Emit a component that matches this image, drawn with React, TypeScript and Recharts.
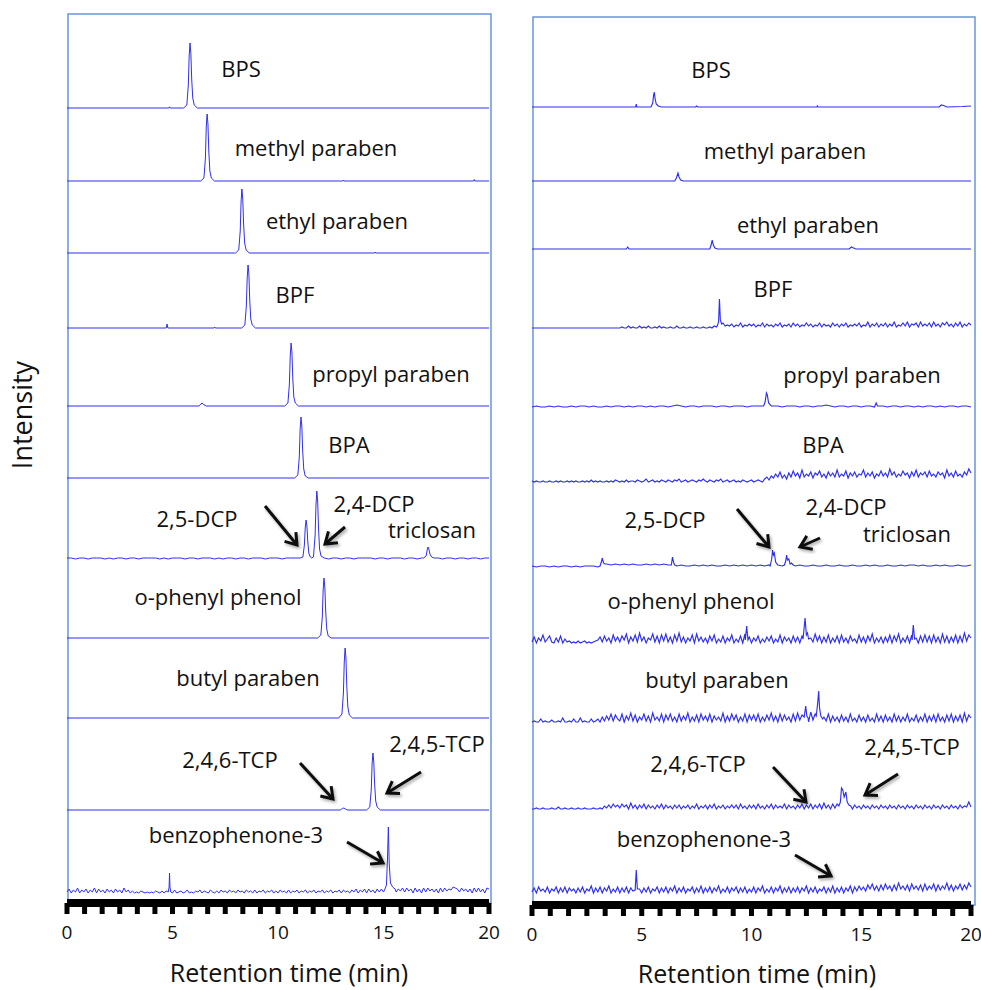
import { LineChart, Line, XAxis, YAxis } from 'recharts';

type Pt = [number, number];

const TICKS = Array.from({ length: 25 }, (_, i) => (i * 20) / 24);
const TICK_LABELS = [0, 5, 10, 15, 20];

// ---- left panel (standards) ----
const L_BPS: Pt[][] = [
  [[4.83, 0], [4.86, 1.2], [4.89, 0]],
  [[5.53, 0], [5.68, 3], [5.75, 23], [5.79, 52], [5.83, 65], [5.87, 55], [5.91, 29], [5.96, 10], [6.03, 3], [6.18, 0]],
];
const L_MP: Pt[][] = [
  [[6.34, 0], [6.49, 3], [6.56, 23], [6.6, 54], [6.64, 67], [6.68, 57], [6.72, 30], [6.77, 10], [6.84, 3], [6.99, 0]],
  [[13.07, 0], [13.1, 1], [13.13, 0]],
  [[19.27, 0], [19.3, 1.5], [19.33, 0]],
];
const L_EP: Pt[][] = [
  [[7.99, 0], [8.14, 3], [8.21, 22], [8.25, 51], [8.29, 64], [8.33, 54], [8.37, 29], [8.42, 10], [8.49, 3], [8.64, 0]],
  [[14.57, 0], [14.6, 1], [14.63, 0]],
];
const L_BPF: Pt[][] = [
  [[4.7, 0], [4.74, 4], [4.78, 0]],
  [[6.97, 0], [7.0, 1], [7.03, 0]],
  [[8.28, 0], [8.43, 3], [8.5, 22], [8.54, 50], [8.58, 63], [8.62, 54], [8.66, 28], [8.71, 9], [8.78, 3], [8.93, 0]],
];
const L_PP: Pt[][] = [
  [[6.25, 0], [6.35, 2], [6.4, 3], [6.47, 1.5], [6.6, 0]],
  [[10.32, 0], [10.47, 3], [10.54, 22], [10.58, 50], [10.62, 63], [10.66, 54], [10.7, 28], [10.75, 9], [10.82, 3], [10.97, 0]],
];
const L_BPA: Pt[][] = [
  [[10.79, 0], [10.94, 3], [11.01, 21], [11.05, 49], [11.09, 61], [11.13, 52], [11.17, 27], [11.22, 9], [11.29, 2], [11.44, 0]],
];
const L_DCP_NOISE = [
  1, 1, 0, 1, 1, 0, 1, 1, 1, 0,
  1, 0, 1, 1, 0, 1, 1, 0, 1, 1,
  1, 1, 0, 1, 0, 1, 1, 1, 0, 1,
  1, 0, 1, 1, 1, 0, 1, 0, 1, 1,
  0, 1, 1, 0, 1, 1, 1, 0, 1, 1,
  1, 0, 1, 1, 1, 1, 1, 1, 1, 1,
  1, 1, 0, 1, 1, 0, 1, 1, 0, 1,
  1, 1, 1, 0, 1, 1, 0, 1, 1, 1,
  0, 1, 1, 0, 1, 1, 1, 1, 1, 0,
  1, 1, 0, 1, 1, 0, 1, 1, 0, 1,
  1,
];
const L_DCP: Pt[][] = [
  [[11.05, 1], [11.18, 2], [11.25, 14], [11.29, 31], [11.33, 39], [11.37, 33], [11.41, 18], [11.46, 6], [11.53, 2], [11.6, 1]],
  [[11.68, 2], [11.76, 24], [11.8, 54], [11.84, 68], [11.88, 58], [11.92, 31], [11.97, 10], [12.04, 3], [12.19, 1]],
  [[16.9, 1], [17.02, 3], [17.07, 9], [17.11, 12], [17.15, 10], [17.2, 5], [17.28, 2], [17.4, 1]],
];
const L_OPH: Pt[][] = [
  [[11.88, 0], [12.03, 3], [12.1, 21], [12.14, 48], [12.18, 60], [12.22, 51], [12.26, 27], [12.31, 9], [12.38, 2], [12.53, 0]],
];
const L_BUT: Pt[][] = [
  [[12.88, 0], [13.03, 4], [13.1, 25], [13.14, 56], [13.18, 70], [13.22, 60], [13.26, 32], [13.31, 11], [13.38, 3], [13.53, 0]],
];
const L_TCP: Pt[][] = [
  [[12.95, 0], [13.05, 1.5], [13.12, 2], [13.2, 1], [13.3, 0]],
  [[14.2, 0], [14.35, 3], [14.42, 20], [14.46, 46], [14.5, 57], [14.54, 48], [14.58, 26], [14.63, 9], [14.7, 3], [14.85, 0]],
];
const L_BZ_NOISE = [
  1, 4, 0, 3, 1, 5, 0, 3, 1, 4, 0, 3, 1, 5, 0, 4, 1, 3, 0, 4,
  1, 3, 0, 4, 1, 3, 0, 5, 1, 3, 0, 2, 0, 1, 0, 2, 1, 0, 1, 0,
  1, 0, 2, 1, 0, 2, 0, 2, 0, 1, 0, 3, 0, 1, 2, 0, 1, 3, 0, 1,
  0, 2, 1, 3, 0, 2, 1, 0, 3, 1, 0, 2, 0, 3, 1, 2, 0, 3, 1, 2,
  0, 3, 1, 2, 0, 3, 1, 2, 0, 3, 0, 2, 1, 3, 0, 2, 1, 3, 0, 2,
  0, 3, 1, 2, 0, 3, 0, 2, 1, 3, 0, 2, 1, 3, 0, 2, 1, 3, 0, 2,
  1, 3, 0, 2, 1, 3, 0, 2, 1, 3, 0, 3, 1, 2, 0, 3, 1, 4, 0, 3,
  1, 4, 0, 4, 1, 3, 0, 4, 1, 4, 1, 3, 0, 4, 1, 4, 1, 4, 2, 5,
  1, 5, 2, 4, 0, 5, 1, 4, 0, 5, 1, 5, 2, 4, 1, 4, 0, 5, 1, 5,
  2, 4, 3, 6, 5, 4, 1, 5, 2, 4, 1, 4, 0, 5, 1, 5, 1, 4, 0, 5,
  4,
];
const L_BZ: Pt[][] = [
  [[4.8, 1], [4.84, 6], [4.86, 20], [4.88, 6], [4.92, 1]],
  [[15.05, 3], [15.14, 8], [15.19, 35], [15.23, 66], [15.27, 30], [15.33, 10], [15.43, 6], [15.55, 4]],
];

// ---- right panel (sample) ----
const R_BPS: Pt[][] = [
  [[4.72, 0], [4.75, 3], [4.78, 0]],
  [[5.42, 0], [5.5, 4], [5.54, 12], [5.57, 15], [5.61, 8], [5.66, 3], [5.75, 1], [5.9, 0]],
  [[7.45, 0], [7.5, 1], [7.55, 0]],
  [[12.98, 0], [13.0, 1], [13.03, 0]],
  [[18.55, 0], [18.65, 2], [18.75, 1.5], [18.9, 0], [19.6, 0.5], [20, 1]],
];
const R_MP: Pt[][] = [
  [[6.5, 0], [6.58, 3], [6.65, 8], [6.7, 4], [6.77, 1], [6.9, 0]],
];
const R_EP: Pt[][] = [
  [[4.3, 0], [4.36, 2], [4.42, 0]],
  [[8.1, 0], [8.16, 4], [8.21, 9], [8.26, 4], [8.33, 1], [8.45, 0]],
  [[14.45, 0], [14.55, 2], [14.65, 1], [14.75, 0]],
];
const R_BPF_NOISE = [
  0, 0, 0, 0, 0, 0, 0, 0, 0, 0, 0, 0, 0, 0, 0, 0, 0, 0, 0, 0,
  0, 0, 0, 0, 0, 0, 0, 0, 0, 0, 0, 0, 0, 0, 0, 0, 0, 0, 0, 0,
  0, 1, 0, 0, 2, 0, 1, 0, 0, 2, 0, 1, 0, 2, 0, 0, 1, 0, 2, 0,
  1, 0, 0, 1, 0, 0, 2, 0, 0, 1, 0, 0, 1, 0, 0, 1, 0, 0, 1, 0,
  0, 1, 0, 2, 1, 3, 2, 1, 2, 3, 2, 4, 1, 3, 2, 5, 1, 3, 2, 4,
  2, 4, 1, 3, 2, 5, 1, 4, 2, 3, 1, 4, 2, 5, 1, 3, 2, 4, 1, 5,
  2, 4, 1, 3, 2, 5, 2, 4, 1, 3, 2, 5, 1, 4, 2, 3, 1, 5, 2, 4,
  1, 4, 2, 5, 1, 3, 2, 4, 2, 5, 1, 3, 2, 6, 1, 4, 2, 5, 1, 4,
  2, 5, 1, 4, 2, 6, 1, 3, 2, 5, 2, 6, 1, 4, 3, 5, 1, 6, 2, 4,
  2, 5, 1, 6, 2, 4, 1, 5, 3, 6, 2, 4, 1, 5, 2, 6, 1, 4, 2, 5,
  3,
];
const R_BPF: Pt[][] = [
  [[8.44, 2], [8.5, 6], [8.54, 29], [8.58, 8], [8.64, 4], [8.7, 5]],
];
const R_PP_NOISE = [
  0, 1, 0, 0, 1, 0, 1, 0, 0, 1,
  0, 1, 1, 0, 1, 0, 0, 1, 0, 1,
  1, 0, 1, 0, 1, 1, 0, 1, 0, 1,
  1, 0, 1, 2, 1, 0, 1, 1, 0, 1,
  1, 1, 0, 1, 1, 0, 1, 1, 1, 0,
  1, 1, 1, 0, 1, 1, 1, 0, 1, 1,
  1, 0, 1, 1, 0, 1, 1, 2, 1, 0,
  1, 1, 0, 1, 1, 0, 1, 1, 0, 1,
  1, 0, 1, 1, 0, 1, 1, 0, 1, 0,
  1, 1, 0, 1, 0, 1, 1, 0, 1, 1,
  0,
];
const R_PP: Pt[][] = [
  [[10.55, 1], [10.62, 5], [10.68, 14], [10.72, 12], [10.78, 4], [10.9, 1]],
  [[15.62, 1], [15.68, 4], [15.74, 1]],
];
const R_BPA_NOISE = [
  1, 0, 1, 0, 0, 1, 0, 0, 1, 0, 0, 1, 0, 1, 0, 0, 1, 0, 1, 0,
  1, 0, 0, 1, 0, 1, 0, 2, 0, 1, 0, 1, 0, 0, 1, 0, 1, 0, 2, 1,
  0, 1, 0, 2, 0, 1, 1, 0, 2, 1, 0, 1, 3, 0, 1, 2, 0, 1, 0, 2,
  1, 0, 2, 1, 0, 2, 1, 3, 0, 1, 2, 0, 1, 2, 1, 0, 2, 1, 3, 1,
  0, 2, 1, 0, 2, 1, 3, 0, 1, 2, 0, 1, 2, 0, 1, 0, 2, 1, 0, 1,
  2, 0, 1, 2, 1, 0, 3, 5, 2, 6, 4, 8, 5, 10, 4, 7, 3, 9, 5, 11,
  6, 9, 4, 12, 5, 8, 6, 10, 4, 9, 7, 11, 5, 8, 4, 10, 6, 9, 5, 12,
  5, 8, 6, 11, 4, 9, 6, 10, 5, 8, 7, 12, 5, 9, 6, 10, 4, 8, 6, 11,
  6, 9, 5, 13, 7, 10, 5, 8, 6, 11, 7, 9, 4, 10, 6, 12, 5, 9, 7, 10,
  5, 11, 6, 8, 5, 10, 7, 9, 4, 12, 6, 9, 5, 11, 6, 8, 5, 10, 7, 13,
  9,
];
const R_BPA: Pt[][] = [];
const R_DCP_NOISE = [
  1, 0, 1, 1, 0, 1, 0, 1, 1, 0,
  1, 0, 1, 1, 1, 0, 4, 3, 2, 3,
  2, 3, 2, 3, 2, 2, 3, 2, 3, 2,
  3, 2, 4, 1, 2, 1, 1, 2, 1, 2,
  1, 2, 1, 1, 2, 1, 2, 1, 2, 1,
  2, 1, 2, 1, 2, 1, 2, 1, 2, 2,
  1, 2, 1, 1, 2, 1, 1, 2, 1, 1,
  2, 1, 1, 2, 1, 1, 2, 1, 2, 1,
  1, 2, 1, 1, 2, 1, 2, 2, 1, 2,
  1, 1, 2, 1, 2, 1, 1, 2, 1, 1,
  2,
];
const R_DCP: Pt[][] = [
  [[3.1, 1], [3.16, 5], [3.2, 9], [3.26, 4], [3.32, 3]],
  [[6.35, 2], [6.4, 10], [6.46, 4], [6.5, 2]],
  [[10.85, 1], [10.92, 8], [10.96, 17], [11.0, 12], [11.04, 14], [11.1, 5], [11.16, 3]],
  [[11.5, 2], [11.56, 6], [11.6, 12], [11.64, 7], [11.7, 8], [11.76, 3], [11.82, 4], [11.9, 2]],
];
const R_OPH_NOISE = [
  1, 6, 0, 5, 2, 8, 1, 4, 7, 1, 0, 5, 1, 7, 0, 4, 1, 2, 0, 1,
  0, 2, 0, 1, 2, 0, 1, 0, 1, 2, 3, 6, 1, 7, 2, 5, 0, 8, 2, 6,
  1, 7, 3, 9, 0, 6, 2, 8, 1, 10, 2, 6, 0, 5, 3, 9, 1, 7, 0, 8,
  2, 9, 1, 6, 0, 8, 2, 10, 1, 6, 0, 5, 2, 8, 0, 9, 2, 6, 1, 5,
  0, 7, 2, 8, 0, 4, 1, 7, 0, 5, 2, 8, 0, 4, 1, 7, 0, 9, 1, 6,
  0, 5, 2, 7, 0, 4, 1, 6, 2, 7, 0, 4, 1, 8, 0, 6, 2, 5, 0, 7,
  1, 6, 0, 7, 2, 8, 0, 5, 1, 9, 2, 7, 0, 6, 1, 8, 0, 5, 1, 7,
  0, 8, 1, 5, 0, 7, 2, 4, 0, 8, 1, 6, 0, 7, 2, 9, 0, 5, 1, 6,
  0, 6, 1, 8, 0, 7, 2, 9, 0, 5, 1, 7, 0, 8, 2, 5, 0, 7, 1, 8,
  1, 7, 0, 8, 1, 6, 0, 9, 1, 7, 0, 6, 1, 8, 0, 7, 1, 10, 2, 8,
  5,
];
const R_OPH: Pt[][] = [
  [[9.72, 3], [9.78, 17], [9.84, 3]],
  [[12.35, 4], [12.44, 25], [12.5, 8], [12.55, 10], [12.6, 4]],
  [[17.32, 3], [17.37, 18], [17.43, 4]],
];
const R_BUT_NOISE = [
  0, 1, 0, 0, 3, 0, 1, 0, 0, 2, 0, 0, 1, 0, 4, 0, 0, 1, 0, 3,
  0, 0, 4, 0, 1, 0, 0, 3, 0, 1, 3, 0, 5, 1, 6, 2, 8, 1, 7, 3,
  1, 8, 0, 6, 2, 9, 1, 7, 0, 5, 2, 8, 1, 6, 0, 9, 2, 5, 1, 8,
  0, 7, 2, 8, 1, 5, 0, 8, 1, 6, 2, 9, 0, 5, 1, 7, 0, 8, 2, 6,
  1, 8, 0, 6, 2, 5, 1, 9, 0, 6, 1, 8, 2, 7, 0, 5, 1, 8, 0, 7,
  2, 7, 1, 8, 0, 5, 1, 7, 2, 9, 1, 6, 0, 8, 1, 7, 2, 5, 0, 8,
  1, 9, 2, 7, 1, 8, 0, 10, 2, 8, 1, 7, 0, 5, 1, 8, 0, 6, 1, 5,
  0, 7, 1, 5, 0, 8, 1, 4, 0, 7, 1, 5, 0, 7, 1, 4, 0, 8, 1, 6,
  0, 7, 1, 5, 0, 8, 1, 6, 0, 5, 1, 8, 0, 4, 1, 7, 0, 5, 1, 8,
  0, 6, 1, 7, 0, 8, 1, 5, 0, 7, 1, 8, 0, 6, 1, 7, 0, 9, 1, 7,
  4,
];
const R_BUT: Pt[][] = [
  [[12.4, 5], [12.47, 16], [12.52, 6], [12.58, 4]],
  [[12.95, 6], [13.02, 20], [13.06, 31], [13.1, 14], [13.16, 6], [13.24, 3]],
];
const R_TCP_NOISE = [
  0, 0, 1, 0, 0, 1, 0, 0, 0, 1, 0, 0, 2, 0, 0, 1, 0, 0, 1, 0,
  0, 1, 0, 0, 1, 0, 0, 0, 1, 0, 0, 1, 0, 3, 1, 4, 1, 5, 2, 4,
  1, 5, 2, 4, 0, 6, 1, 4, 0, 4, 1, 5, 0, 4, 1, 3, 0, 4, 1, 5,
  0, 4, 1, 3, 0, 4, 1, 4, 0, 3, 1, 4, 0, 3, 1, 5, 0, 3, 1, 4,
  0, 4, 1, 5, 0, 3, 1, 4, 0, 3, 1, 4, 1, 4, 0, 5, 1, 3, 0, 4,
  1, 4, 0, 5, 1, 3, 0, 4, 1, 5, 0, 4, 1, 3, 1, 5, 0, 4, 1, 3,
  0, 4, 1, 5, 0, 4, 1, 5, 0, 4, 1, 5, 0, 6, 1, 4, 0, 5, 1, 5,
  1, 4, 0, 5, 1, 3, 0, 4, 1, 3, 0, 4, 1, 3, 0, 4, 1, 3, 0, 4,
  1, 3, 0, 4, 1, 3, 0, 4, 1, 3, 0, 4, 1, 3, 0, 4, 1, 3, 0, 4,
  1, 3, 0, 4, 1, 3, 0, 4, 1, 3, 0, 4, 1, 3, 0, 4, 1, 3, 2, 7,
  2,
];
const R_TCP: Pt[][] = [
  [[13.98, 3], [14.05, 7], [14.1, 21], [14.16, 19], [14.22, 12], [14.3, 17], [14.36, 7], [14.44, 4], [14.52, 3]],
];
const R_BZ_NOISE = [
  1, 5, 0, 6, 2, 4, 1, 6, 0, 4, 2, 6, 0, 5, 1, 6, 0, 5, 2, 4,
  0, 5, 1, 6, 0, 4, 2, 7, 0, 5, 1, 6, 0, 5, 2, 7, 0, 4, 1, 6,
  0, 5, 1, 6, 0, 5, 2, 6, 1, 4, 0, 5, 1, 6, 0, 4, 2, 6, 0, 5,
  1, 6, 0, 5, 2, 7, 0, 5, 1, 6, 0, 4, 2, 6, 0, 5, 1, 7, 0, 5,
  1, 6, 0, 5, 2, 7, 0, 4, 1, 6, 0, 5, 2, 6, 0, 5, 1, 6, 0, 4,
  1, 6, 0, 5, 2, 7, 0, 4, 1, 6, 0, 5, 2, 7, 0, 5, 1, 6, 0, 5,
  1, 6, 0, 5, 2, 7, 0, 5, 1, 6, 0, 4, 2, 6, 0, 5, 1, 7, 0, 5,
  1, 6, 0, 5, 2, 7, 0, 6, 2, 7, 3, 6, 2, 8, 4, 9, 3, 7, 2, 8,
  3, 9, 4, 7, 2, 8, 3, 10, 4, 7, 3, 8, 2, 9, 4, 7, 3, 8, 2, 9,
  3, 7, 4, 9, 2, 8, 3, 7, 4, 10, 3, 8, 2, 7, 4, 9, 3, 8, 4, 10,
  6,
];
const R_BZ: Pt[][] = [
  [[4.7, 3], [4.75, 23], [4.8, 4]],
];

const LEFT_TRACES: [number[] | null, Pt[][]][] = [
  [null, L_BPS], [null, L_MP], [null, L_EP], [null, L_BPF], [null, L_PP], [null, L_BPA],
  [L_DCP_NOISE, L_DCP], [null, L_OPH], [null, L_BUT], [null, L_TCP], [L_BZ_NOISE, L_BZ],
];
const RIGHT_TRACES: [number[] | null, Pt[][]][] = [
  [null, R_BPS], [null, R_MP], [null, R_EP], [R_BPF_NOISE, R_BPF], [R_PP_NOISE, R_PP], [R_BPA_NOISE, R_BPA],
  [R_DCP_NOISE, R_DCP], [R_OPH_NOISE, R_OPH], [R_BUT_NOISE, R_BUT], [R_TCP_NOISE, R_TCP], [R_BZ_NOISE, R_BZ],
];

// ---- layout ----
const PANELS = [
  { x0: 67, w: 422, floor: -10, lw: 1, traces: LEFT_TRACES, baselines: [108, 181, 253, 328, 406, 478, 559, 638, 718, 810, 893] },
  { x0: 532, w: 439, floor: -12, lw: 1.15, traces: RIGHT_TRACES, baselines: [107, 181, 249, 328, 407, 482, 567, 643, 722, 809, 893] },
];

const LABELS: [string, number, number][] = [
  ['BPS', 241, 77], ['methyl paraben', 316, 156], ['ethyl paraben', 337, 229], ['BPF', 295, 303],
  ['propyl paraben', 391, 382], ['BPA', 349, 453], ['2,5-DCP', 197, 527], ['2,4-DCP', 374, 512],
  ['triclosan', 432, 538], ['o-phenyl phenol', 218, 605], ['butyl paraben', 248, 686],
  ['2,4,6-TCP', 230, 768], ['2,4,5-TCP', 437, 752], ['benzophenone-3', 236, 843],
  ['BPS', 711, 78], ['methyl paraben', 785, 159], ['ethyl paraben', 808, 233], ['BPF', 773, 297],
  ['propyl paraben', 862, 383], ['BPA', 823, 453], ['2,5-DCP', 665, 528], ['2,4-DCP', 846, 515],
  ['triclosan', 907, 542], ['o-phenyl phenol', 691, 609], ['butyl paraben', 717, 688],
  ['2,4,6-TCP', 698, 772], ['2,4,5-TCP', 912, 755], ['benzophenone-3', 704, 847],
];

const ARROWS: [number, number, number, number][] = [
  [265, 506, 297, 545], [345, 527, 325, 544], [300, 763, 333, 799], [421, 772, 387, 793], [347, 842, 383, 863],
  [737, 509, 769, 547], [820, 538, 800, 547], [773, 767, 806, 802], [898, 774, 865, 795], [795, 855, 831, 876],
];

const STRIP_H = 90;
const TRACE = '#2f2ff0';
const FONT = "'Open Sans', sans-serif";

function buildTrace(noise: number[] | null, peaks: Pt[][]) {
  const windows = peaks.map((p) => [p[0][0], p[p.length - 1][0]]);
  const step = noise ? 20 / (noise.length - 1) : 20;
  const grid = noise
    ? noise.map((y, i) => ({ t: Math.round(i * step * 100) / 100, y }))
    : [{ t: 0, y: 0 }, { t: 20, y: 0 }];
  const kept = grid.filter((g) => !windows.some(([a, b]) => g.t >= a && g.t <= b));
  const pk = peaks.flat().map(([t, y]) => ({ t, y }));
  return [...kept, ...pk].sort((a, b) => a.t - b.t);
}

const renderTick = (p: any) => {
  const v = Math.round(p.payload.value * 1000) / 1000;
  if (!TICK_LABELS.includes(v)) return <g />;
  return (
    <text x={p.x} y={p.y + 23} textAnchor="middle" fontSize={19} fontFamily={FONT} fill="#111">
      {v}
    </text>
  );
};

function Strip({ data, baseline, x0, w, floor, axis, lw }: any) {
  const axisH = axis ? 46 : 0;
  const lo = axis ? floor : 0;
  const top = baseline - (STRIP_H + lo);
  return (
    <div style={{ position: 'absolute', left: x0, top, width: w, height: STRIP_H + axisH }}>
      <LineChart width={w} height={STRIP_H + axisH} data={data} margin={{ top: 0, right: 0, bottom: 0, left: 0 }}>
        <XAxis
          dataKey="t"
          type="number"
          domain={[0, 20]}
          hide={!axis}
          height={axisH}
          ticks={TICKS}
          interval={0}
          axisLine={{ stroke: '#000', strokeWidth: 8 }}
          tickLine={{ stroke: '#000', strokeWidth: 5 }}
          tickSize={11}
          tick={renderTick}
        />
        <YAxis hide domain={[lo, lo + STRIP_H]} />
        <Line dataKey="y" type="linear" stroke={TRACE} strokeWidth={lw} dot={false} isAnimationActive={false} />
      </LineChart>
    </div>
  );
}

function Arrow({ a }: { a: [number, number, number, number] }) {
  const [x1, y1, x2, y2] = a;
  const ang = Math.atan2(y2 - y1, x2 - x1);
  const L = 13;
  const s = 0.6;
  const h1 = `${x2 - L * Math.cos(ang - s)},${y2 - L * Math.sin(ang - s)}`;
  const h2 = `${x2 - L * Math.cos(ang + s)},${y2 - L * Math.sin(ang + s)}`;
  return (
    <g filter="url(#shadow)" stroke="#111" strokeWidth={3} fill="none">
      <line x1={x1} y1={y1} x2={x2} y2={y2} />
      <polyline points={`${h1} ${x2},${y2} ${h2}`} strokeLinejoin="miter" />
    </g>
  );
}

export default function App() {
  return (
    <div style={{ position: 'absolute', left: 0, top: 0, width: 981, height: 990, background: '#fff' }}>
      <style>{'.recharts-surface { overflow: visible; } .recharts-wrapper { overflow: visible; }'}</style>
      <svg width={981} height={990} style={{ position: 'absolute', left: 0, top: 0 }}>
        <rect x={68} y={14} width={423} height={889} fill="none" stroke="#6a95d6" strokeWidth={1.5} />
        <rect x={533} y={17} width={442} height={888} fill="none" stroke="#6a95d6" strokeWidth={1.5} />
      </svg>
      {PANELS.map((panel, pi) =>
        panel.traces.map(([noise, peaks], i) => (
          <Strip
            key={`${pi}-${i}`}
            data={buildTrace(noise, peaks)}
            baseline={panel.baselines[i]}
            x0={panel.x0}
            w={panel.w}
            floor={panel.floor}
            lw={panel.lw}
            axis={i === panel.traces.length - 1}
          />
        ))
      )}
      <svg width={981} height={990} style={{ position: 'absolute', left: 0, top: 0, pointerEvents: 'none' }}>
        <defs>
          <filter id="shadow" x="-30%" y="-30%" width="160%" height="160%">
            <feDropShadow dx={1.5} dy={2} stdDeviation={1.5} floodColor="#000" floodOpacity={0.35} />
          </filter>
        </defs>
        {LABELS.map(([text, x, y], i) => (
          <text key={i} x={x} y={y} textAnchor="middle" fontSize={22} fontFamily={FONT} fill="#111">
            {text}
          </text>
        ))}
        {ARROWS.map((a, i) => (
          <Arrow key={i} a={a} />
        ))}
        <text transform="translate(32,415) rotate(-90)" textAnchor="middle" fontSize={27} fontFamily={FONT} fill="#111">
          Intensity
        </text>
        <text x={289} y={982} textAnchor="middle" fontSize={25} fontFamily={FONT} fill="#111">
          Retention time (min)
        </text>
        <text x={757} y={983} textAnchor="middle" fontSize={25} fontFamily={FONT} fill="#111">
          Retention time (min)
        </text>
      </svg>
    </div>
  );
}
